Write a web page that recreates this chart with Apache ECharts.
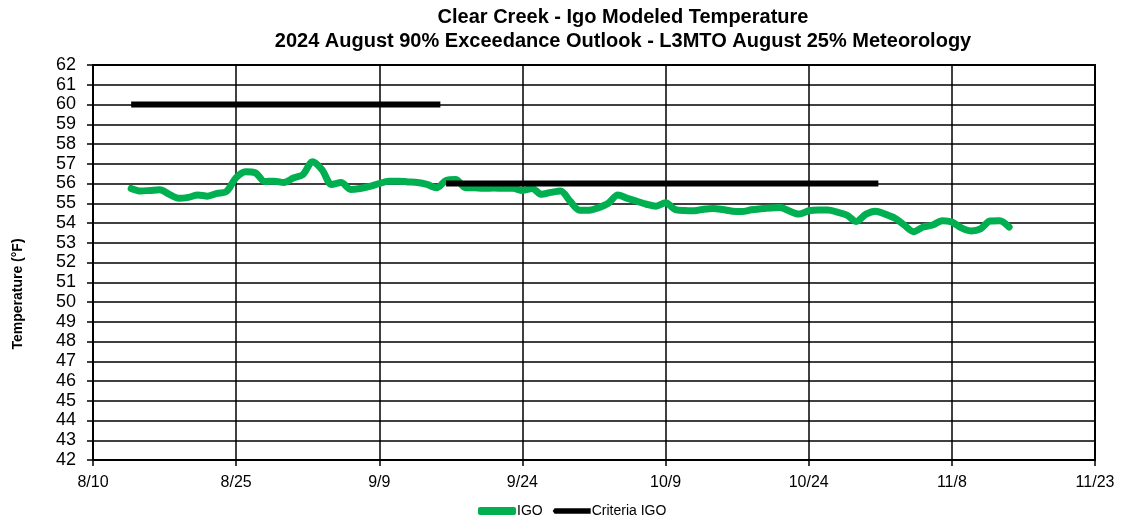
<!DOCTYPE html>
<html>
<head>
<meta charset="utf-8">
<script src="https://cdn.jsdelivr.net/npm/echarts@6/dist/echarts.min.js"></script>
<style>
  html, body { margin: 0; padding: 0; background: #fff; }
  #chart { width: 1121px; height: 522px; }
</style>
</head>
<body>
<div id="chart"></div>
<script>
// days counted from 8/10/2024
const startDate = new Date(2024, 7, 10)
const igoDays = [4,5,6,7,8,9,10,11,12,13,14,15,16,17,18,19,20,21,22,23,24,25,26,27,28,29,30,31,32,33,34,35,36,37,38,39,40,41,42,43,44,45,46,47,48,49,50,51,52,53,54,55,56,57,58,59,60,61,62,63,64,65,66,67,68,69,70,71,72,73,74,75,76,77,78,79,80,81,82,83,84,85,86,87,88,89,90,91,92,93,94,95,96]
const igoTemps = [55.75,55.62,55.65,55.68,55.45,55.25,55.3,55.42,55.36,55.5,55.6,56.3,56.6,56.55,56.1,56.12,56.05,56.28,56.45,57.1,56.7,55.95,56.05,55.7,55.75,55.85,56.0,56.12,56.12,56.08,56.05,55.95,55.78,56.15,56.2,55.8,55.78,55.76,55.77,55.76,55.76,55.65,55.75,55.45,55.55,55.62,55.1,54.65,54.65,54.78,55.0,55.42,55.25,55.1,54.95,54.85,55.02,54.68,54.63,54.62,54.7,54.74,54.68,54.6,54.58,54.67,54.72,54.76,54.78,54.6,54.45,54.62,54.66,54.66,54.55,54.4,54.08,54.45,54.6,54.45,54.25,53.9,53.56,53.8,53.9,54.12,54.05,53.75,53.6,53.7,54.1,54.12,53.8]
// criteria: two segments, '-' breaks the line
const criteriaDays = [4, 36.4, 36.7, 37, 82.3]
const criteriaTemps = [60, 60, '-', 56, 56]

function dayLabel(v) {
    let d = new Date(startDate.getTime() + v * 86400000)
    return (d.getMonth() + 1) + "/" + d.getDate()
}

const font = "'Liberation Sans', Arial, sans-serif"

let myChart = echarts.init(document.getElementById("chart"))
myChart.setOption({
    animation: false,
    textStyle: { fontFamily: font },
    title: {
        text: "Clear Creek - Igo Modeled Temperature\n2024 August 90% Exceedance Outlook - L3MTO August 25% Meteorology",
        left: 618,
        top: 0,
        textAlign: "center",
        textStyle: { fontSize: 20, fontWeight: "bold", color: "#000", lineHeight: 24, fontFamily: font },
    },
    grid: { left: 93, right: 26, top: 65, bottom: 62 },
    legend: {
        top: 499,
        left: 473,
        itemGap: 10,
        itemWidth: 38,
        itemHeight: 8,
        textStyle: { fontSize: 14, color: "#000", fontFamily: font, padding: [0, 0, 0, -4] },
        data: [
            { name: "IGO", icon: "roundRect", itemStyle: { color: "#00b050" } },
            { name: "Criteria IGO", icon: "path://M0,3 L2,0 L40,0 L40,6 L2,6 Z", itemStyle: { color: "#000" } },
        ],
    },
    xAxis: {
        type: "value",
        min: 0,
        max: 105,
        interval: 15,
        axisLine: { lineStyle: { color: "#000", width: 2 } },
        axisTick: { show: true, length: 6, lineStyle: { color: "#000", width: 1.5 } },
        axisLabel: { color: "#000", fontSize: 16, margin: 15, formatter: dayLabel },
        splitLine: { show: true, lineStyle: { color: "#000", width: 1.5 } },
    },
    yAxis: {
        type: "value",
        min: 42,
        max: 62,
        interval: 1,
        axisLine: { show: true, lineStyle: { color: "#000", width: 2 } },
        axisTick: { show: true, length: 6, lineStyle: { color: "#000", width: 1.5 } },
        axisLabel: { color: "#000", fontSize: 18, margin: 17 },
        splitLine: { show: true, lineStyle: { color: "#000", width: 1.5 } },
    },
    graphic: [
        {
            type: "rect",
            shape: { x: 93, y: 65, width: 1002, height: 395 },
            style: { fill: "none", stroke: "#000", lineWidth: 2 },
            silent: true,
        },
        {
            type: "text",
            x: 18,
            y: 294,
            rotation: Math.PI / 2,
            style: {
                text: "Temperature (°F)",
                font: "bold 14px " + font,
                fill: "#000",
                align: "center",
                verticalAlign: "middle",
            },
        },
    ],
    series: [
        {
            name: "IGO",
            type: "line",
            symbol: "none",
            smooth: 0.3,
            z: 3,
            lineStyle: { color: "#00b050", width: 7, cap: "round", join: "round" },
            itemStyle: { color: "#00b050" },
            data: igoDays.map((d, i) => [d, igoTemps[i]]),
        },
        {
            name: "Criteria IGO",
            type: "line",
            symbol: "none",
            z: 4,
            lineStyle: { color: "#000", width: 6 },
            itemStyle: { color: "#000" },
            data: criteriaDays.map((d, i) => [d, criteriaTemps[i]]),
        },
    ],
})
</script>
</body>
</html>
